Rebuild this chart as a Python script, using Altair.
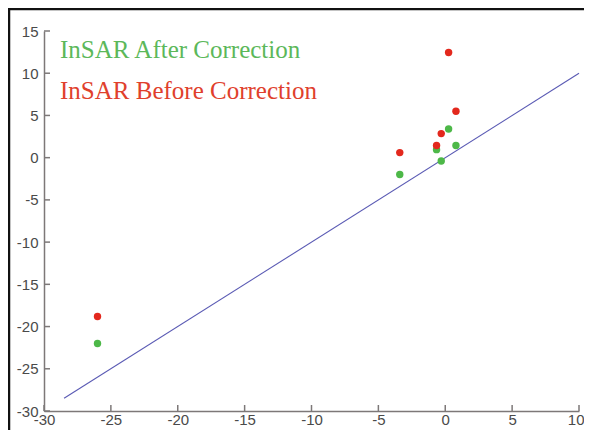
import altair as alt
import pandas as pd

# data
green_x = [-26.0, -3.4, -0.65, -0.3, 0.25, 0.8]
green_y = [-22.0, -2.0, 0.95, -0.4, 3.4, 1.45]
red_x = [-26.0, -3.4, -0.65, -0.3, 0.25, 0.8]
red_y = [-18.8, 0.6, 1.45, 2.85, 12.45, 5.5]
line_x = [-28.5, 10.0]
line_y = [-28.5, 10.0]
x_ticks = [-30, -25, -20, -15, -10, -5, 0, 5, 10]
y_ticks = [15, 10, 5, 0, -5, -10, -15, -20, -25, -30]
labels = ["InSAR After Correction", "InSAR Before Correction"]

W, H = 535, 380
AXIS_COLOR = "#7d7878"
LABEL_COLOR = "#4a4a4a"
GREEN = "#4db848"
RED = "#e3281d"

xs = alt.Scale(domain=[-30, 10], nice=False, zero=False)
ys = alt.Scale(domain=[-30, 15], nice=False, zero=False)

x_axis = alt.Axis(values=x_ticks, tickSize=0, grid=False, domainColor=AXIS_COLOR,
                  domainWidth=1.5, labelFont="Liberation Sans", labelFontSize=15,
                  labelColor=LABEL_COLOR, labelPadding=1, title=None,
                  labelExpr="toString(datum.value)",
                  labelAlign={"expr": "datum.value == 10 ? 'right' : 'center'"},
                  labelOffset={"expr": "datum.value == 10 ? 5 : 0"})
y_axis = alt.Axis(values=y_ticks, tickSize=0, grid=False, domainColor=AXIS_COLOR,
                  domainWidth=1.5, labelFont="Liberation Sans", labelFontSize=15,
                  labelColor=LABEL_COLOR, labelPadding=6, title=None,
                  labelExpr="toString(datum.value)")

line_df = pd.DataFrame({"x": line_x, "y": line_y})
green_df = pd.DataFrame({"x": green_x, "y": green_y})
red_df = pd.DataFrame({"x": red_x, "y": red_y})
xt_df = pd.DataFrame({"t": x_ticks})
yt_df = pd.DataFrame({"t": y_ticks})

line = alt.Chart(line_df).mark_line(color="#5a5ab4", strokeWidth=1.1).encode(
    x=alt.X("x:Q", scale=xs, axis=x_axis),
    y=alt.Y("y:Q", scale=ys, axis=y_axis),
)

pts_green = alt.Chart(green_df).mark_circle(color=GREEN, size=55, opacity=1).encode(
    x=alt.X("x:Q", scale=xs), y=alt.Y("y:Q", scale=ys))
pts_red = alt.Chart(red_df).mark_circle(color=RED, size=55, opacity=1).encode(
    x=alt.X("x:Q", scale=xs), y=alt.Y("y:Q", scale=ys))

xticks = alt.Chart(xt_df).mark_rule(color=AXIS_COLOR, strokeWidth=1.5).encode(
    x=alt.X("t:Q", scale=xs), y=alt.value(H), y2=alt.value(H - 6))
yticks = alt.Chart(yt_df).mark_rule(color=AXIS_COLOR, strokeWidth=1.5).encode(
    y=alt.Y("t:Q", scale=ys), x=alt.value(0), x2=alt.value(6))

txt_green = alt.Chart(pd.DataFrame({"t": [labels[0]]})).mark_text(
    font="Liberation Serif", fontSize=25, color="#5cb85a", align="left", baseline="alphabetic"
).encode(text="t:N", x=alt.value(16), y=alt.value(27))
txt_red = alt.Chart(pd.DataFrame({"t": [labels[1]]})).mark_text(
    font="Liberation Serif", fontSize=25, color="#e0402c", align="left", baseline="alphabetic"
).encode(text="t:N", x=alt.value(16), y=alt.value(68))

border_top = alt.Chart(pd.DataFrame({"a": [0]})).mark_rule(color="#111111", strokeWidth=2.5).encode(
    x=alt.value(-36), x2=alt.value(W + 5), y=alt.value(-22))
border_left = alt.Chart(pd.DataFrame({"a": [0]})).mark_rule(color="#111111", strokeWidth=2.5).encode(
    x=alt.value(-35), y=alt.value(-23), y2=alt.value(H + 19))

chart = alt.layer(
    border_top, border_left, line, xticks, yticks, pts_green, pts_red, txt_green, txt_red
).properties(
    width=W, height=H,
    autosize=alt.AutoSizeParams(type="none"),
    padding={"left": 36, "top": 23, "right": 5, "bottom": 19},
).configure(background="white").configure_view(stroke=None)

chart.save("out.html", embed_options={"renderer": "svg", "actions": False})
